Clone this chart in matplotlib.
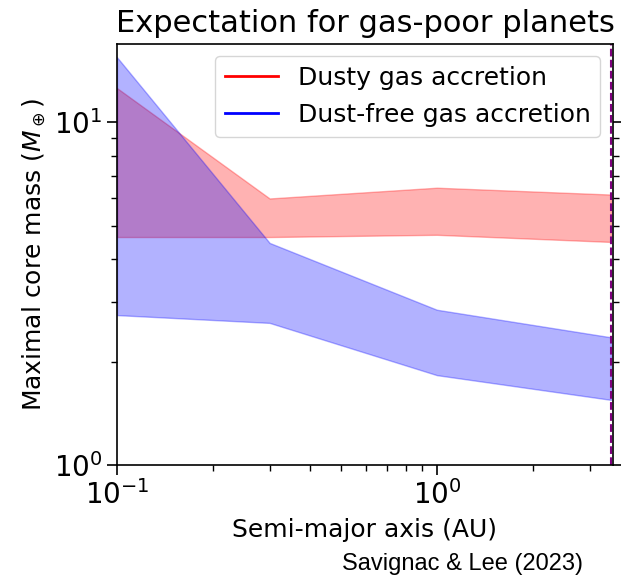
import numpy as np
import matplotlib
matplotlib.use('Agg')
import matplotlib.pyplot as plt

# semi-major axis grid (AU)
a_au = [0.1, 0.3, 1.0, 3.5]

# dusty gas accretion band (Earth masses)
dusty_low = [4.63, 4.63, 4.70, 4.48]
dusty_high = [12.6, 6.0, 6.45, 6.16]

# dust-free gas accretion band (Earth masses)
dustfree_low = [2.74, 2.60, 1.83, 1.55]
dustfree_high = [15.5, 4.45, 2.84, 2.36]

a_edge = 3.5

fig = plt.figure(figsize=(6.21, 5.77), dpi=100)
ax = fig.add_axes([0.1884, 0.194, 0.7986, 0.7306])

ax.fill_between(a_au, dusty_low, dusty_high, color='red', alpha=0.3)
ax.fill_between(a_au, dustfree_low, dustfree_high, color='blue', alpha=0.3)
ax.plot([], [], color='red', lw=2, label='Dusty gas accretion')
ax.plot([], [], color='blue', lw=2, label='Dust-free gas accretion')
ax.axvline(a_edge, color='purple', ls='--', lw=1.5)

ax.set_xscale('log')
ax.set_yscale('log')
ax.set_xlim(0.1, 3.55)
ax.set_ylim(1, 17)

ax.tick_params(axis='both', which='both', labelsize=20)
ax.tick_params(axis='y', which='both', right=True)
ax.tick_params(which='major', length=7, width=1.2)
ax.tick_params(which='minor', length=4, width=1)
for s in ax.spines.values():
    s.set_linewidth(1.2)

ax.set_xlabel('Semi-major axis (AU)', fontsize=18, labelpad=6)
ax.set_ylabel(r'Maximal core mass ($M_\oplus$)', fontsize=18)
ax.set_title('Expectation for gas-poor planets', fontsize=22, pad=8)
ax.legend(loc='upper right', fontsize=18, handlelength=2.1)

fig.text(0.939, 0.012, 'Savignac & Lee (2023)', fontsize=17,
         family='Liberation Sans', ha='right', va='baseline')

fig.savefig('out.png', dpi=100)
